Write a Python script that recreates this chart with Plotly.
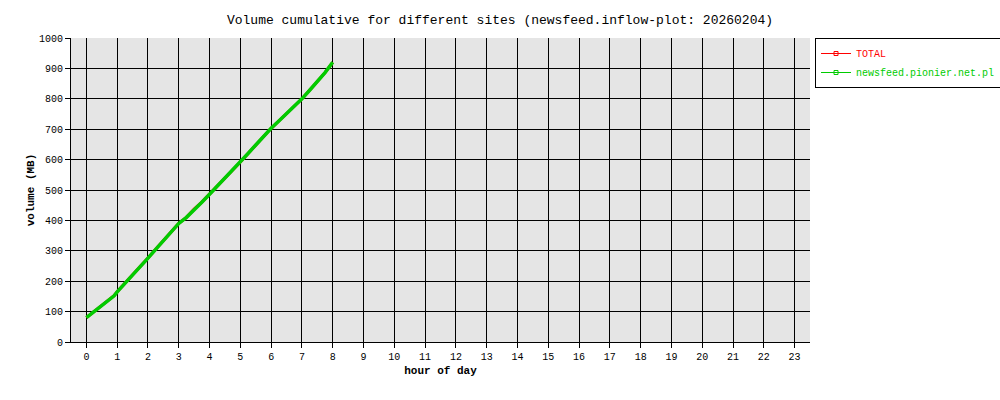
import plotly.graph_objects as go

hours = [0, 0.1, 0.25, 0.4, 0.5, 0.6, 0.75, 0.9, 1, 1.25, 1.5, 1.75, 2, 2.25, 2.5, 2.75, 3, 3.25, 3.5, 3.75,
         4, 4.25, 4.5, 4.75, 5, 5.25, 5.5, 5.75, 6, 6.25, 6.5, 6.75, 7, 7.25, 7.5, 7.75, 8]
newsfeed = [80, 88, 100, 112, 118, 126, 140, 152, 165, 192, 220, 247, 276, 305, 334, 362, 390, 410, 437, 460,
            486, 512, 538, 565, 592, 620, 648, 676, 703, 727, 751, 776, 800, 828, 857, 886, 920]
total = list(newsfeed)
series_names = ["TOTAL", "newsfeed.pionier.net.pl"]
series_colors = ["#ff0000", "#00cc00"]
x_ticks = list(range(24))
y_ticks = list(range(0, 1001, 100))

font = "Liberation Mono, DejaVu Sans Mono, monospace"

fig = go.Figure()
for vals, name, color, w in zip([total, newsfeed], series_names, series_colors, [3, 3.5]):
    fig.add_trace(go.Scatter(x=hours, y=vals, mode="lines", showlegend=False,
                             line=dict(color=color, width=w), hoverinfo="skip"))
# legend entries (thin line with small square marker, like the original key)
for name, color in zip(series_names, series_colors):
    fig.add_trace(go.Scatter(x=[None], y=[None], mode="lines+markers",
                             name=f"<span style='color:{color}'>{name}</span>",
                             line=dict(color=color, width=1),
                             marker=dict(symbol="square-open", size=4, color=color,
                                         line=dict(width=1, color=color))))

fig.update_layout(
    width=1000, height=400,
    margin=dict(l=71, r=190, t=38, b=58, autoexpand=False),
    paper_bgcolor="white", plot_bgcolor="#e5e5e5",
    font=dict(family=font, size=10, color="black"),
    title=dict(text="Volume cumulative for different sites (newsfeed.inflow-plot: 20260204)",
               x=0.5, xref="container", xanchor="center", y=1 - 19 / 400, yref="container",
               yanchor="middle", font=dict(family=font, size=13)),
    legend=dict(x=1.0068, y=1.0, xanchor="left", yanchor="top",
                bordercolor="black", borderwidth=1, bgcolor="white",
                font=dict(family=font, size=10), tracegroupgap=0,
                itemwidth=30),
    showlegend=True,
)
fig.update_xaxes(range=[-0.5, 23.5], tickvals=x_ticks, ticks="outside", ticklen=5,
                 tickcolor="black", showgrid=True, gridcolor="black", gridwidth=1,
                 showline=True, linecolor="black", linewidth=1, zeroline=False,
                 title=dict(text="<b>hour of day</b>", standoff=4, font=dict(size=11)))
fig.update_yaxes(range=[0, 1000], tickvals=y_ticks, ticks="outside", ticklen=5,
                 tickcolor="black", showgrid=True, gridcolor="black", gridwidth=1,
                 showline=True, linecolor="black", linewidth=1, zeroline=False,
                 title=dict(text="<b>volume (MB)</b>", standoff=2, font=dict(size=11)))

fig.write_html("out.html", config={"displayModeBar": False},
               post_script="document.body.style.margin='0';")
